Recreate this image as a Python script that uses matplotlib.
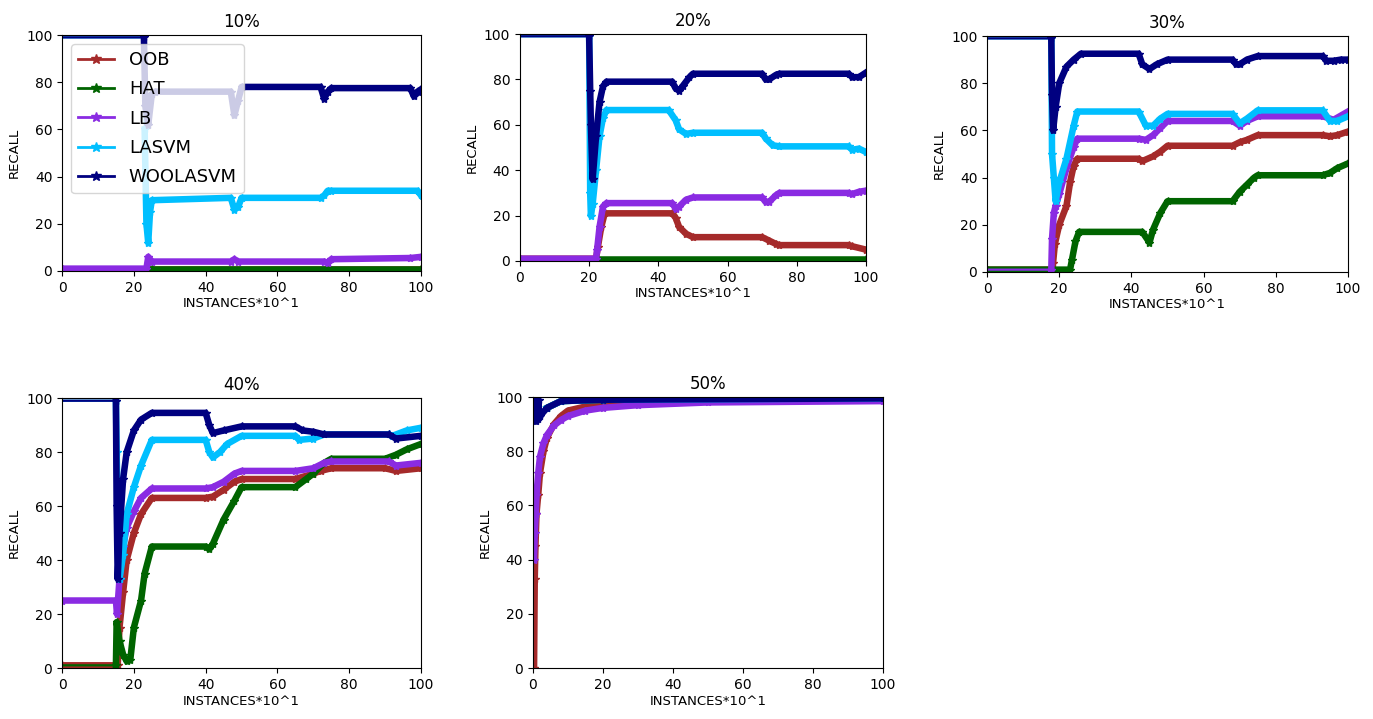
import numpy as np
import matplotlib.pyplot as plt
from matplotlib.lines import Line2D

#%%
METHODS = ['OOB', 'HAT', 'LB', 'LASVM', 'WOOLASVM']
COLORS = ['#a52a2a', '#006400', '#8a2be2', '#00bfff', '#000080']
TITLES = ['10%', '20%', '30%', '40%', '50%']

# (instance, recall), one list per method and panel
oob10 = [(0, 1), (100, 1)]
hat10 = [(0, 1), (25, 1), (100, 1)]
lb10 = [(0, 1), (23.5, 1), (24, 6), (25, 4), (47, 4), (48, 5), (49, 4), (73, 4), (74, 3.5),
        (75, 5), (97, 5.5), (100, 6)]
lasvm10 = [(0, 99), (22.8, 99), (23, 60), (23.5, 20), (24, 12), (24.5, 25), (25, 30), (47, 31),
           (48, 26), (49, 27), (50, 31), (72, 31), (73, 32), (74, 34), (75, 34), (99, 34), (100, 32)]
woola10 = [(0, 99), (22.8, 99), (23.2, 70), (24, 62), (25, 75), (26, 76), (47, 76), (48, 66),
           (49, 72), (50, 78), (72, 78), (73, 73), (74, 76), (75, 77.5), (97, 77.5), (98, 74),
           (99, 76), (100, 77)]

oob20 = [(0, 1), (22, 1), (22.5, 6), (23.5, 15), (24.5, 21), (44, 21), (45, 19), (46, 15), (48, 12),
         (50, 10.5), (70, 10.5), (72, 9), (74, 7.5), (75, 7), (95, 7), (96, 6.5), (100, 5)]
hat20 = [(0, 1), (22, 1), (100, 1)]
lb20 = [(0, 1), (22, 1), (22.3, 5), (23, 15), (24, 24), (25, 25.5), (44, 25.5), (45, 23), (46, 24),
        (48, 27), (50, 28), (70, 28), (71, 26), (72, 26), (74, 29), (75, 30), (95, 30), (96, 29.5),
        (98, 30.5), (100, 31)]
lasvm20 = [(0, 99), (20, 99), (20.3, 30), (20.5, 20), (21, 25), (22, 40), (23, 55), (24, 63),
           (25, 66.5), (43, 66.5), (45, 62), (46, 58), (48, 56), (50, 56.5), (70, 56.5), (71, 54),
           (73, 51), (75, 50.5), (95, 50.5), (96, 49), (98, 49.5), (100, 48)]
woola20 = [(0, 99), (20, 99), (20.3, 75), (20.5, 60), (21, 36), (22, 55), (23, 70), (24, 77),
           (25, 79), (44, 79), (45, 76), (46, 75), (47, 77), (49, 81), (50, 82.5), (70, 82.5),
           (71, 80), (72, 80), (74, 82), (75, 82.5), (95, 82.5), (96, 81), (98, 81), (100, 83)]

oob30 = [(0, 1), (18, 1), (18.3, 4), (18.8, 12), (20, 20), (22, 28), (23, 38), (24, 45), (25, 48),
         (42, 48), (43, 47), (46, 49), (48, 51), (50, 53.5), (68, 53.5), (70, 55), (72, 56),
         (75, 58), (93, 58), (95, 57.5), (97, 58), (100, 59.5)]
hat30 = [(0, 1), (23, 1), (23.5, 5), (24.5, 13), (25.5, 17), (43, 17), (45, 12.5), (46, 18),
         (48, 25), (50, 30), (68, 30), (70, 34), (72, 37), (74, 40), (75, 41), (93, 41), (95, 42),
         (97, 44), (100, 46)]
lb30 = [(0, 1), (17.8, 1), (18, 14), (18.5, 25), (19, 28), (20, 33), (22, 44), (24, 53),
        (25, 56.5), (42, 56.5), (44, 56), (46, 58), (48, 61), (50, 64), (68, 64), (70, 62),
        (72, 64), (75, 66), (93, 66), (96, 64.5), (100, 68)]
lasvm30 = [(0, 99), (17.8, 99), (18, 50), (18.5, 40), (19, 30), (20, 38), (22, 48), (24, 62),
           (25, 68), (42, 68), (44, 62), (46, 62), (48, 65), (50, 67), (68, 67), (70, 63),
           (72, 65), (75, 68.5), (93, 68.5), (95, 64), (97, 64), (100, 66)]
woola30 = [(0, 99), (17.8, 99), (18, 75), (18.3, 60), (19, 70), (20, 80), (22, 87), (24, 90),
           (26, 92.5), (42, 92.5), (43, 88), (45, 86), (47, 88), (50, 90), (68, 90), (69, 88),
           (70, 88), (72, 90), (75, 91.5), (93, 91.5), (94, 89.5), (96, 89.5), (98, 90), (100, 90)]

oob40 = [(0, 1), (15.5, 1), (16, 15), (17, 28), (18, 40), (20, 50), (22, 57), (25, 63), (40, 63),
         (42, 63.5), (45, 66), (48, 69), (50, 70), (65, 70), (70, 72), (72, 73), (75, 74),
         (90, 74), (93, 73), (100, 74)]
hat40 = [(0, 1), (15, 1), (15.2, 17), (16, 10), (17, 5), (18, 2.5), (19, 3), (20, 15), (22, 25),
         (23, 35), (25, 45), (40, 45), (41, 44), (42, 46), (45, 55), (48, 62), (50, 67), (65, 67),
         (68, 70), (70, 72), (73, 76), (75, 77.5), (90, 77.5), (93, 79), (96, 81), (100, 83)]
lb40 = [(0, 25), (15, 25), (15.3, 20), (16, 33), (17, 45), (18, 52), (20, 58), (22, 63),
        (25, 66.5), (40, 66.5), (42, 67), (45, 69), (48, 72), (50, 73), (65, 73), (70, 74),
        (73, 76), (75, 76.5), (91, 76.5), (93, 75), (100, 76)]
lasvm40 = [(0, 99), (15, 99), (15.2, 80), (15.5, 60), (16, 33), (17, 42), (18, 57), (20, 67),
           (22, 75), (25, 84.5), (40, 84.5), (41, 80), (42, 78), (44, 80), (46, 83), (50, 86),
           (65, 86), (66, 84.5), (70, 85), (73, 86.5), (91, 86.5), (92, 86), (96, 88), (100, 89)]
woola40 = [(0, 99), (15, 99), (15.2, 60), (15.5, 33), (16, 50), (17, 70), (18, 80), (20, 88),
           (22, 92), (25, 94.5), (40, 94.5), (41, 90), (42, 87), (45, 88), (50, 89.5), (65, 89.5),
           (67, 88), (70, 87.5), (73, 86.5), (91, 86.5), (93, 85), (100, 86)]

oob50 = [(0.3, 0), (0.5, 33), (0.7, 45), (1, 57), (1.5, 64), (2, 72), (3, 80), (4, 85), (6, 90),
         (8, 93), (10, 95), (15, 96.5), (20, 97.5), (40, 98.5), (100, 99)]
hat50 = [(4, 96), (8, 98.5), (20, 99), (100, 99.5)]
lb50 = [(0.3, 40), (0.5, 50), (0.8, 57), (1, 64), (1.5, 72), (2, 78), (3, 83), (4, 86), (6, 89.5),
        (8, 91.5), (10, 93), (15, 95), (20, 96), (30, 97), (50, 98), (100, 98.5)]
lasvm50 = [(4, 96), (8, 98.5), (20, 99), (100, 99.5)]
woola50 = [(0.2, 99), (0.4, 92), (1, 91), (1.5, 92), (1.6, 99), (1.7, 92.5), (2, 93), (4, 96),
           (8, 98.5), (20, 99), (100, 99.5)]

PANELS = [
    [oob10, hat10, lb10, lasvm10, woola10],
    [oob20, hat20, lb20, lasvm20, woola20],
    [oob30, hat30, lb30, lasvm30, woola30],
    [oob40, hat40, lb40, lasvm40, woola40],
    [oob50, hat50, lb50, lasvm50, woola50],
]

#%%
# instance where the thick (dense) part of each run begins
STARTS = [
    [23, 24, 23, 23, 23],
    [20.2, 22, 20.2, 20.2, 20.2],
    [17.9, 17.9, 17.9, 17.9, 17.9],
    [15.1, 15.1, -1, 15.1, 15.1],
    [-1, -1, -1, -1, -1],
]

fig = plt.figure(figsize=(13.73, 7.19), dpi=100)
rects = [
    [0.0452, 0.6231, 0.2615, 0.3282],
    [0.3787, 0.6370, 0.2520, 0.3157],
    [0.7189, 0.6217, 0.2629, 0.3282],
    [0.0452, 0.0709, 0.2615, 0.3755],
    [0.3882, 0.0709, 0.2549, 0.3769],
]

for k in range(5):
    ax = fig.add_axes(rects[k])
    for j, (pts, c) in enumerate(zip(PANELS[k], COLORS)):
        arr = np.array(pts, dtype=float)
        x, y = arr[:, 0], arr[:, 1]
        n = int(np.sum(x <= STARTS[k][j]))
        if n > 0:
            ax.plot(x[:n + 1], y[:n + 1], color=c, lw=1.6)
        i0 = n - 1 if n > 1 else 0
        ax.plot(x[i0:], y[i0:], color=c, lw=4.7, solid_joinstyle='round',
                marker='*', ms=6)
    ax.set_xlim(0, 100)
    ax.set_ylim(0, 100)
    ax.set_xticks([0, 20, 40, 60, 80, 100])
    ax.set_yticks([0, 20, 40, 60, 80, 100])
    ax.tick_params(labelsize=10)
    ax.set_title(TITLES[k], fontsize=12)
    ax.set_xlabel('INSTANCES*10^1', fontsize=9.5, labelpad=2)
    ax.set_ylabel('RECALL', fontsize=9.5)
    if k == 0:
        handles = [Line2D([0], [0], color=c, lw=2, marker='*', ms=7) for c in COLORS]
        ax.legend(handles, METHODS, loc='upper left', fontsize=13, framealpha=0.8,
                  handlelength=2.0, labelspacing=0.62, borderaxespad=0.5)

plt.savefig('out.png', dpi=100)
